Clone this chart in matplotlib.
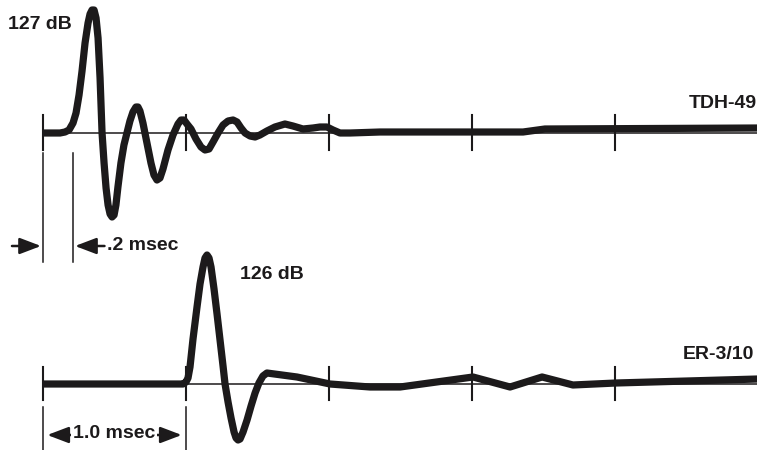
import matplotlib
matplotlib.use('Agg')
import matplotlib.pyplot as plt

# time in msec, amplitude in arbitrary units (pixels of the original trace)
tdh_t = [0.000, 0.119, 0.154, 0.182, 0.210, 0.231, 0.252, 0.273, 0.294, 0.315,
         0.329, 0.343, 0.357, 0.371, 0.385, 0.399, 0.413, 0.427, 0.441, 0.455,
         0.469, 0.483, 0.497, 0.510, 0.524, 0.545, 0.566, 0.587, 0.608, 0.629,
         0.650, 0.664, 0.678, 0.699, 0.727, 0.755, 0.776, 0.797, 0.818, 0.839,
         0.874, 0.909, 0.944, 0.965, 0.986, 1.007, 1.035, 1.070, 1.105, 1.133,
         1.161, 1.189, 1.224, 1.259, 1.294, 1.329, 1.357, 1.385, 1.413, 1.448,
         1.483, 1.517, 1.566, 1.622, 1.692, 1.748, 1.818, 1.888, 1.937, 1.986,
         2.028, 2.077, 2.147, 2.357, 2.825, 3.357, 3.510, 5.0]
tdh_a = [0, 0, 1, 3, 10, 20, 38, 62, 90, 110,
         119, 123, 123, 115, 95, 55, 0, -30, -55, -72,
         -81, -84, -82, -72, -54, -30, -12, 0, 12, 21,
         26, 26, 22, 10, -10, -30, -42, -47, -45, -36,
         -17, -2, 9, 13, 13, 9, 4, -6, -14, -17,
         -16, -9, 0, 8, 12, 13, 11, 5, 0, -3,
         -4, -2, 2, 6, 9, 7, 4, 5, 6, 6,
         3, 0, 0, 1, 1, 1, 4, 5]

er_t = [0.000, 0.979, 1.000, 1.014, 1.028, 1.049, 1.077, 1.098, 1.119, 1.133,
        1.147, 1.161, 1.175, 1.196, 1.217, 1.238, 1.259, 1.273, 1.294, 1.315,
        1.336, 1.350, 1.364, 1.378, 1.399, 1.427, 1.455, 1.483, 1.510, 1.538,
        1.566, 1.776, 2.007, 2.287, 2.497, 3.007, 3.266, 3.490, 3.706, 4.007, 5.0]
er_a = [0, 0, 2, 6, 17, 45, 77, 100, 117, 126,
        129, 126, 117, 95, 70, 44, 18, 0, -18, -34,
        -48, -54, -56, -55, -48, -36, -22, -9, 1, 8,
        11, 7, 0, -3, -3, 7, -3, 7, -1, 1, 5]

tick_times = [0, 1, 2, 3, 4]
labels = ['TDH-49', 'ER-3/10']
peak_labels = ['127 dB', '126 dB']

ink = '#1c1a1b'
font = ['Liberation Sans', 'DejaVu Sans']
fs = 14

fig = plt.figure(figsize=(7.57, 4.5), dpi=100)
ax = fig.add_axes([0, 0, 1, 1])
ax.set_xlim(-43 / 143, 714 / 143)
ax.set_ylim(-450, 0)
ax.axis('off')

top = -133
bot = -384

# thin reference baselines
ax.plot([0, 5], [top, top], color=ink, lw=1.1, zorder=1)
ax.plot([0, 5], [bot, bot], color=ink, lw=1.1, zorder=1)

# tick marks each msec
for t in tick_times:
    ax.plot([t, t], [top + 18, top - 17], color=ink, lw=1.5, zorder=1)
    ax.plot([t, t], [bot + 17, bot - 16], color=ink, lw=1.5, zorder=1)

# traces
ax.plot(tdh_t, [top + a for a in tdh_a], color=ink, lw=5.2,
        solid_joinstyle='round', solid_capstyle='butt', zorder=3)
ax.plot(er_t, [bot + a for a in er_a], color=ink, lw=5.2,
        solid_joinstyle='round', solid_capstyle='butt', zorder=3)

# labels
ax.text(4.99, top + 29.5, labels[0], ha='right', va='center', fontsize=fs,
        fontweight='bold', family=font, color=ink)
ax.text(4.97, bot + 29.5, labels[1], ha='right', va='center', fontsize=fs,
        fontweight='bold', family=font, color=ink)
ax.text(-0.245, -24.5, peak_labels[0], ha='left', va='center', fontsize=fs,
        fontweight='bold', family=font, color=ink)
ax.text(1.378, -274.5, peak_labels[1], ha='left', va='center', fontsize=fs,
        fontweight='bold', family=font, color=ink)

# .2 msec marker
d = 0.21
ax.plot([0, 0], [-153, -262], color=ink, lw=1.1)
ax.plot([d, d], [-153, -262], color=ink, lw=1.1)
arr = dict(arrowstyle='-|>,head_length=1.0,head_width=0.38', color=ink,
           lw=1.8, mutation_scale=13, shrinkA=0, shrinkB=0)
ax.annotate('', xy=(-0.014, -246), xytext=(-0.217, -246), arrowprops=arr)
ax.annotate('', xy=(d + 0.014, -246), xytext=(0.43, -246), arrowprops=arr)
ax.text(0.45, -246, '.2 msec', ha='left', va='center', fontsize=fs,
        fontweight='bold', family=font, color=ink)

# 1.0 msec marker
ax.plot([0, 0], [-407, -450], color=ink, lw=1.1)
ax.plot([1, 1], [-407, -450], color=ink, lw=1.1)
ax.annotate('', xy=(0.03, -435), xytext=(0.5, -435), arrowprops=arr)
ax.annotate('', xy=(0.97, -435), xytext=(0.5, -435), arrowprops=arr)
ax.text(0.497, -434, '1.0 msec', ha='center', va='center', fontsize=fs,
        fontweight='bold', family=font, color=ink,
        bbox=dict(boxstyle='square,pad=0.08', fc='white', ec='none'))

fig.savefig('out.png', dpi=100)
